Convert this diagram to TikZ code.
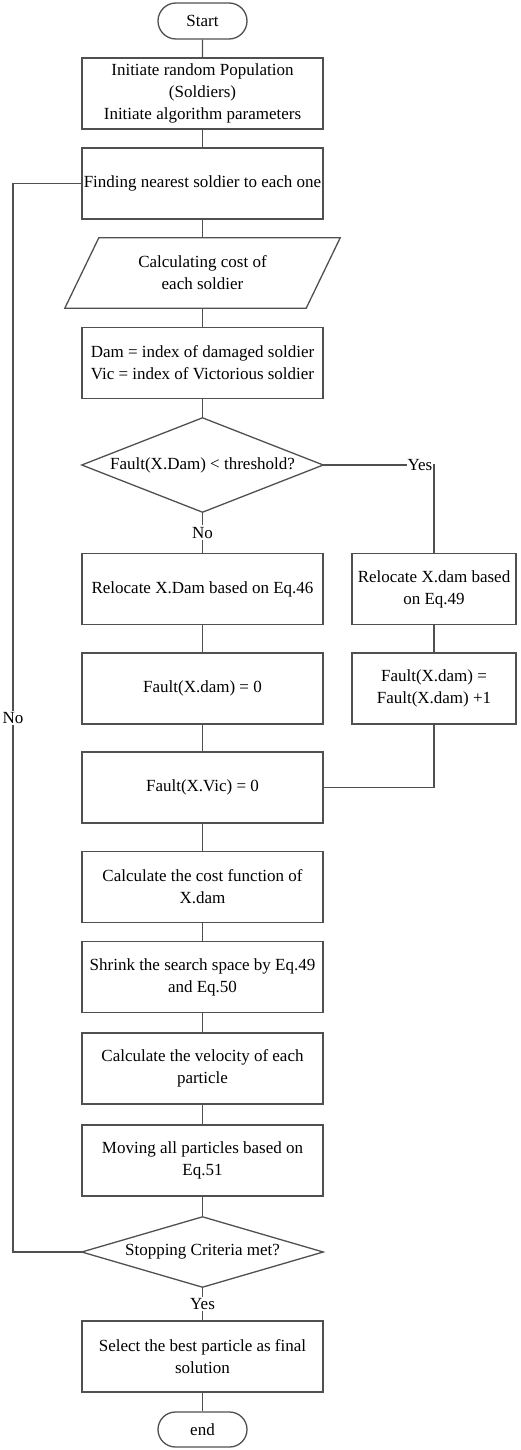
\documentclass[tikz,border=0pt]{standalone}
\usepackage{fontspec}
\setmainfont{Liberation Serif}
\usetikzlibrary{calc,shapes.misc}
\definecolor{linec}{HTML}{505050}
\begin{document}
\begin{tikzpicture}[x=1pt,y=-1pt,
  every node/.style={font=\fontsize{17}{22}\selectfont, text=black},
  box/.style={draw=linec, line width=1.3pt, rectangle, minimum width=241pt, minimum height=71pt, align=center, inner sep=1pt},
  rbox/.style={box, minimum width=164pt},
  termbox/.style={draw=linec, line width=1.3pt, rounded rectangle, minimum width=89pt, minimum height=36pt, inner sep=0pt},
  ghost/.style={rectangle, align=center, inner sep=0pt},
  conn/.style={draw=linec, line width=1.3pt},
  lab/.style={fill=white, inner sep=1.5pt}
]
\fill[white] (0,0) rectangle (520,1450);
\useasboundingbox (0,0) rectangle (520,1450);

\node[termbox] (start) at (202.5,21) {Start};
\node[box] (init) at (202.5,93.5) {Initiate random Population\\(Soldiers)\\Initiate algorithm parameters};
\node[box] (find) at (202.5,183.5) {Finding nearest soldier to each one};
\node[ghost, minimum width=241pt, minimum height=70pt] (calc) at (202.5,273) {Calculating cost of\\each soldier};
\draw[conn] ($(calc.north west)+(17,0)$) -- ($(calc.north east)+(17,0)$) -- ($(calc.south east)+(-17,0)$) -- ($(calc.south west)+(-17,0)$) -- cycle;
\node[box] (dam) at (202.5,363) {Dam = index of damaged soldier\\Vic = index of Victorious soldier};
\node[ghost, minimum width=241pt, minimum height=94pt] (d1) at (202.5,465) {Fault(X.Dam) < threshold?};
\draw[conn] (d1.north) -- (d1.east) -- (d1.south) -- (d1.west) -- cycle;
\node[box] (rel46) at (202.5,589) {Relocate X.Dam based on Eq.46};
\node[rbox] (rel49) at (434,589) {Relocate X.dam based\\on Eq.49};
\node[box] (f0) at (202.5,688.5) {Fault(X.dam) = 0};
\node[rbox] (fp1) at (434,688.5) {Fault(X.dam) =\\Fault(X.dam) +1};
\node[box] (vic) at (202.5,787.5) {Fault(X.Vic) = 0};
\node[box] (cost) at (202.5,887) {Calculate the cost function of\\X.dam};
\node[box] (shrink) at (202.5,977) {Shrink the search space by Eq.49\\and Eq.50};
\node[box] (vel) at (202.5,1068.5) {Calculate the velocity of each\\particle};
\node[box] (move) at (202.5,1160.5) {Moving all particles based on\\Eq.51};
\node[ghost, minimum width=241pt, minimum height=70pt] (d2) at (202.5,1252) {Stopping Criteria met?};
\draw[conn] (d2.north) -- (d2.east) -- (d2.south) -- (d2.west) -- cycle;
\node[box] (sel) at (202.5,1356.5) {Select the best particle as final\\solution};
\node[termbox, minimum height=35pt] (end) at (202.5,1429.5) {end};

\draw[conn] (start) -- (init);
\draw[conn] (init) -- (find);
\draw[conn] (find) -- (calc);
\draw[conn] (calc) -- (dam);
\draw[conn] (dam) -- (d1.north);
\draw[conn] (d1.south) -- (rel46.north) node[lab, midway] {No};
\coordinate (yc) at (rel49.north |- d1.east);
\draw[conn] (d1.east) -- (yc) -- (rel49.north);
\node[lab, anchor=east, inner sep=1pt] (yeslab) at ($(yc)+(-0.5,0)$) {Yes};
\draw[conn] (rel46) -- (f0);
\draw[conn] (f0) -- (vic);
\draw[conn] (rel49) -- (fp1);
\draw[conn] (fp1.south) |- (vic.east);
\draw[conn] (vic) -- (cost);
\draw[conn] (cost) -- (shrink);
\draw[conn] (shrink) -- (vel);
\draw[conn] (vel) -- (move);
\draw[conn] (move) -- (d2.north);
\coordinate (lx) at (13,1252);
\draw[conn] (d2.west) -- (lx) |- (find.west);
\node[lab] (nolab) at (13,718) {No};
\draw[conn] (d2.south) -- (sel.north) node[lab, midway] {Yes};
\draw[conn] (sel) -- (end);
\end{tikzpicture}
\end{document}
